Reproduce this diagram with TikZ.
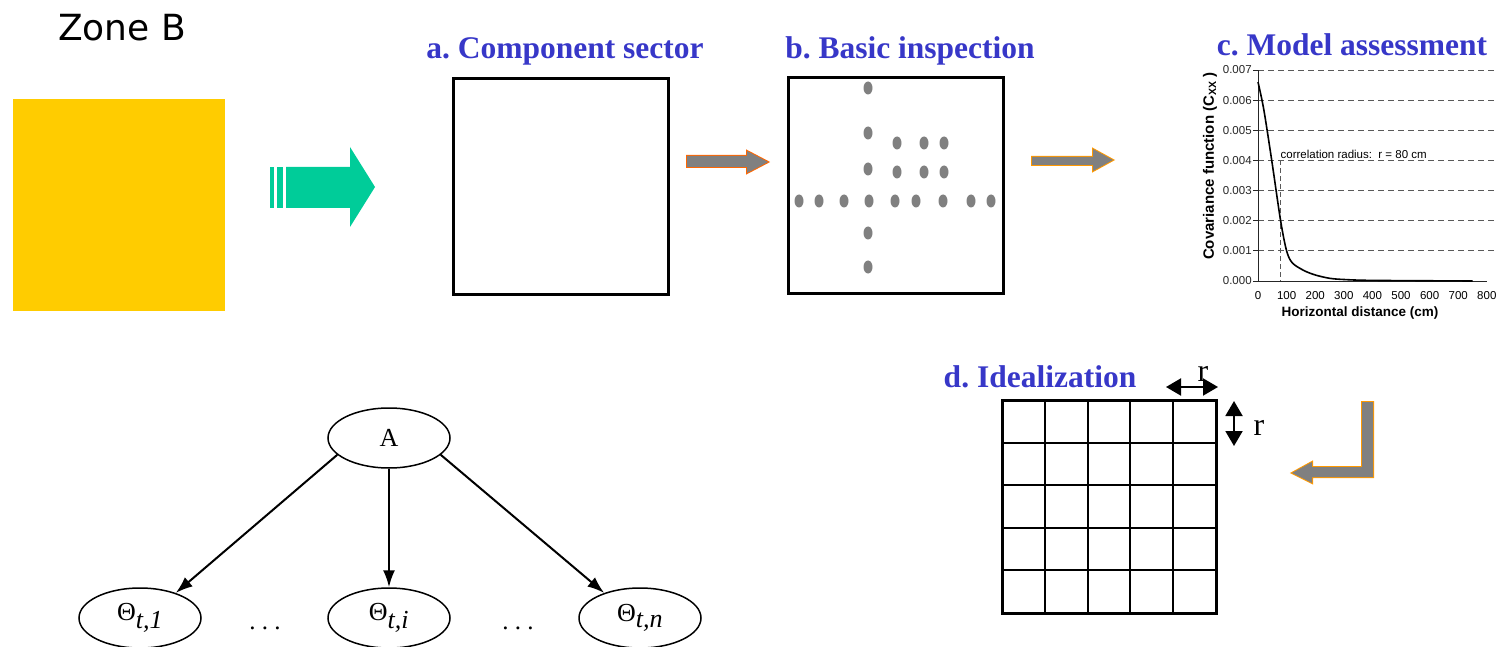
\documentclass[tikz,border=0pt]{standalone}
\usepackage{fontspec}
\setmainfont{Liberation Serif}
\newfontfamily\zonefont{DejaVu Sans}
\newfontfamily\plotfont{Liberation Sans}
\usetikzlibrary{arrows.meta,shapes.geometric}
\definecolor{titleblue}{RGB}{55,55,200}
\definecolor{zoneyellow}{RGB}{255,204,0}
\definecolor{flowgreen}{RGB}{0,204,153}
\definecolor{dotgray}{RGB}{128,128,128}
\definecolor{darkorange}{RGB}{255,102,0}
\definecolor{lightorange}{RGB}{255,153,0}
\frenchspacing

\begin{document}
\begin{tikzpicture}[x=1pt, y=-1pt,
    stage_title/.style={
        text=titleblue,
        inner sep=0pt,
        font=\fontsize{31.5}{31.5}\selectfont\bfseries
    },
    sector_box/.style={
        draw,
        line width=3pt,
        minimum width=215pt,
        minimum height=215pt
    },
    probe_dot/.style={
        ellipse,
        fill=dotgray,
        inner sep=0pt,
        minimum width=9pt,
        minimum height=13pt
    },
    block_arrow/.style={fill=dotgray, line width=2pt},
    graph_node/.style={
        ellipse,
        draw,
        line width=1.5pt,
        inner sep=0pt,
        minimum width=122pt,
        minimum height=60pt,
        font=\fontsize{26}{26}\selectfont
    },
    edge_arrow/.style={-{Latex[length=17pt,width=12pt]}, line width=2pt},
    plot_label/.style={inner sep=1pt, font=\plotfont\fontsize{11.5}{11.5}\selectfont},
    size_arrow/.style={{Triangle[length=15pt,width=17pt]}-{Triangle[length=15pt,width=17pt]}, line width=2pt}
]

\useasboundingbox (0,0) rectangle (1497,647);



    \node (zone_b_label) [shift={(122, 28)}, font=\zonefont\fontsize{36}{36}\selectfont]
    {
        Zone B
    };

    \fill[zoneyellow] (13, 99) rectangle (225, 311);

    \fill[flowgreen] (270, 167) rectangle (274, 208);
    \fill[flowgreen] (277, 167) rectangle (283, 208);
    \fill[flowgreen] (286, 167) -- (350, 167) -- (350, 147) -- (375, 187)
        -- (350, 227) -- (350, 208) -- (286, 208) -- cycle;



    \node (component_sector_title) [stage_title, shift={(565, 51)}]
    {
        a. Component sector
    };

    \node (component_sector_box) [sector_box, shift={(560.5, 186.5)}] {};

    \draw[block_arrow, darkorange] (687, 156) -- (747, 156) -- (747, 151) -- (768, 162)
        -- (747, 173) -- (747, 167) -- (687, 167) -- cycle;
    \fill[dotgray] (687, 156) -- (747, 156) -- (747, 151) -- (768, 162)
        -- (747, 173) -- (747, 167) -- (687, 167) -- cycle;



    \node (basic_inspection_title) [stage_title, shift={(910, 51)}]
    {
        b. Basic inspection
    };

    \node (basic_inspection_box) [sector_box, shift={(896, 185.5)}] {};

    \foreach \dy in {88, 133, 169, 233, 267}
        \node (probe_v\dy) [probe_dot] at (868, \dy) {};
    \foreach \dx in {799, 819, 844, 869, 895, 916, 943, 971, 991}
        \node (probe_h\dx) [probe_dot] at (\dx, 201) {};
    \foreach \dx in {897, 924, 944}
    {
        \node (probe_a\dx) [probe_dot] at (\dx, 143) {};
        \node (probe_b\dx) [probe_dot] at (\dx, 172) {};
    }

    \draw[block_arrow, lightorange] (1032, 157) -- (1093, 157) -- (1093, 149) -- (1113, 160)
        -- (1093, 171) -- (1093, 165) -- (1032, 165) -- cycle;
    \fill[dotgray] (1032, 157) -- (1093, 157) -- (1093, 149) -- (1113, 160)
        -- (1093, 171) -- (1093, 165) -- (1032, 165) -- cycle;



    \node (model_assessment_title) [stage_title, shift={(1352, 45)}]
    {
        c. Model assessment
    };

    \begin{scope}[shift={(1258, 281)}, x=0.286pt, y=30.14pt]
        \foreach \v in {1, ..., 7}
            \draw[gray!70!black, line width=1pt, dash pattern=on 6pt off 4pt] (0, \v) -- (860, \v);
        \draw[gray!30!black, line width=1pt] (0, 7) -- (0, 0) -- (800, 0);
        \foreach \v in {0, ..., 7}
            \draw[gray!30!black, line width=1pt] (0, \v) -- (-17, \v)
                node (ytick\v) [plot_label, anchor=east] {0.00\v};
        \foreach \t in {0, 100, ..., 800}
            \node (xtick\t) [plot_label, anchor=north] at (\t, -0.3) {\t};
        \draw[gray!70!black, line width=1pt, dash pattern=on 5pt off 3pt] (80, 4) -- (80, 0);
        \node (corr_radius_label) [plot_label, anchor=base west] at (75, 4.08)
        {
            correlation radius:\ \ r = 80 cm
        };
        \draw[line width=1.6pt] plot[smooth, tension=0.5] coordinates {
            (0, 6.6) (20, 5.7) (48, 4.0) (79, 2.0) (100, 1.0) (120, 0.6)
            (160, 0.35) (200, 0.2) (250, 0.09) (300, 0.05) (400, 0.02) (750, 0.0)
        };
    \end{scope}

    \node (cov_axis_label) [rotate=90, inner sep=0pt,
        font=\plotfont\fontsize{15}{15}\selectfont\bfseries] at (1210, 166)
    {
        Covariance function (C\textsubscript{XX} )
    };

    \node (dist_axis_label) [inner sep=0pt, shift={(1360, 313)},
        font=\plotfont\fontsize{13.5}{13.5}\selectfont\bfseries]
    {
        Horizontal distance (cm)
    };



    \draw[block_arrow, lightorange] (1362, 402) -- (1373, 402) -- (1373, 477) -- (1312, 477)
        -- (1312, 483) -- (1292, 473) -- (1312, 462) -- (1312, 467) -- (1362, 467) -- cycle;
    \fill[dotgray] (1362, 402) -- (1373, 402) -- (1373, 477) -- (1312, 477)
        -- (1312, 483) -- (1292, 473) -- (1312, 462) -- (1312, 467) -- (1362, 467) -- cycle;

    \node (idealization_title) [stage_title, shift={(1040, 377)}]
    {
        d. Idealization
    };

    \foreach \i in {1, 2, 3, 4}
    {
        \draw[line width=2pt] (1002 + 42.8 * \i, 400) -- (1002 + 42.8 * \i, 613);
        \draw[line width=2pt] (1002, 400 + 42.6 * \i) -- (1216, 400 + 42.6 * \i);
    }
    \draw[line width=3pt] (1002, 400) rectangle (1216, 613);

    \coordinate (r_h_left) at (1166, 387);
    \coordinate (r_h_right) at (1218, 387);
    \coordinate (r_v_top) at (1234, 401);
    \coordinate (r_v_bottom) at (1234, 446);

    \draw[size_arrow] (r_h_left) to (r_h_right);
    \draw[size_arrow] (r_v_top) to (r_v_bottom);

    \node (r_h_label) [inner sep=0pt, font=\fontsize{32}{32}\selectfont, shift={(1203, 374)}]
    {
        r
    };

    \node (r_v_label) [inner sep=0pt, font=\fontsize{32}{32}\selectfont, shift={(1259, 428)}]
    {
        r
    };



    \node (node_a) [graph_node, shift={(389, 438)}]
    {
        A
    };

    \node (node_theta_1) [graph_node, shift={(140, 618)}]
    {
        Θ$_{\textit{t,1}}$
    };

    \node (node_theta_i) [graph_node, shift={(389, 618)}]
    {
        Θ$_{\textit{t,i}}$
    };

    \node (node_theta_n) [graph_node, shift={(640, 618)}]
    {
        Θ$_{\textit{t,n}}$
    };

    \node (dots_left) [shift={(265, 628)}, font=\fontsize{25}{25}\selectfont] {. . .};
    \node (dots_right) [shift={(518, 628)}, font=\fontsize{25}{25}\selectfont] {. . .};

    \draw[edge_arrow] (node_a.198) to (node_theta_1.35);
    \draw[edge_arrow] (node_a.south) to (node_theta_i.north);
    \draw[edge_arrow] (node_a.342) to (node_theta_n.145);


\end{tikzpicture}
\end{document}
